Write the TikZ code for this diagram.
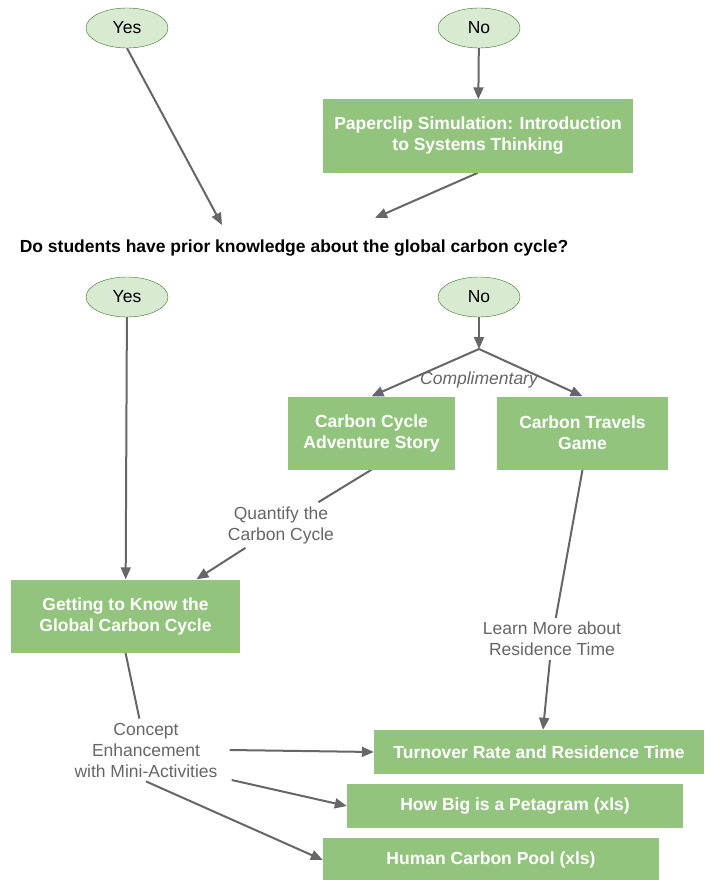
\documentclass[tikz,border=0pt]{standalone}
\usepackage{fontspec}
\setmainfont{Liberation Sans}
\usetikzlibrary{shapes.geometric,arrows.meta}
\pgfdeclarelayer{bg}
\pgfsetlayers{bg,main}
\definecolor{boxgreen}{HTML}{93C47D}
\definecolor{ovalfill}{HTML}{D9EAD3}
\definecolor{ovalline}{HTML}{38761D}
\definecolor{linegray}{HTML}{666666}
\tikzset{
  oval/.style={ellipse, draw=ovalline, fill=ovalfill, minimum width=82pt, minimum height=40pt, inner sep=0pt, font=\fontsize{17.5}{20}\selectfont},
  box/.style={fill=boxgreen, text=white, align=center, inner sep=0pt, font=\bfseries\fontsize{17.5}{21}\selectfont},
  note/.style={text=linegray, align=center, font=\fontsize{17.5}{21}\selectfont, inner sep=4pt},
  arr/.style={draw=linegray, line width=2pt, -{Triangle[length=12pt,width=10pt]}},
  ln/.style={draw=linegray, line width=2pt}
}
\begin{document}
\begin{tikzpicture}[x=1pt,y=-1pt]
        \useasboundingbox (0,0) rectangle (704,880);
        \node (yes1) [oval] at (127,28) {Yes};
        \node (no1) [oval] at (479,28) {No};
        \node (clip) [box, minimum width=310pt, minimum height=73pt] at (478,136) {Paperclip Simulation: Introduction\\to Systems Thinking};
        \node (quest) [font=\bfseries\fontsize{17.5}{20}\selectfont] at (294,248) {Do students have prior knowledge about the global carbon cycle?};
        \coordinate (qa) at (222,225);
        \coordinate (qb) at (375,218);
        \node (yes2) [oval] at (127,297) {Yes};
        \node (no2) [oval] at (479,297) {No};
        \coordinate (split) at (479,349);
        \node (compl) [note, font=\itshape\fontsize{17.5}{21}\selectfont, inner sep=0pt] at (479,380) {Complimentary};
        \node (adv) [box, minimum width=167pt, minimum height=73pt] at (371.5,433) {Carbon Cycle\\Adventure Story};
        \node (game) [box, minimum width=171pt, minimum height=73pt] at (582.5,433) {Carbon Travels\\Game};
        \node (quant) [note] at (281,525) {Quantify the\\Carbon Cycle};
        \node (get) [box, minimum width=229pt, minimum height=73pt] at (125.5,616) {Getting to Know the\\Global Carbon Cycle};
        \node (learn) [note] at (552,639) {Learn More about\\Residence Time};
        \node (concept) [note] at (146,750) {Concept\\Enhancement\\with Mini-Activities};
        \node (turn) [box, minimum width=330pt, minimum height=44pt] at (539,752) {Turnover Rate and Residence Time};
        \node (pet) [box, minimum width=336pt, minimum height=44pt] at (515,806) {How Big is a Petagram (xls)};
        \node (human) [box, minimum width=336pt, minimum height=44pt] at (491,860) {Human Carbon Pool (xls)};
        \begin{pgfonlayer}{bg}
                \draw (yes1.south) edge [arr] (qa);
                \draw (no1) edge [arr] (clip);
                \draw (clip.south) edge [arr] (qb);
                \draw (yes2) edge [arr] (get);
                \draw (no2) edge [arr] (split);
                \draw (split) edge [arr] (adv.north);
                \draw (split) edge [arr] (game.north);
                \draw (adv.south) edge [ln] (quant);
                \draw (quant) edge [arr] ([xshift=71pt]get.north);
                \draw (game.south) edge [ln] (learn);
                \draw (learn) edge [arr] ([xshift=4pt]turn.north);
                \draw (get.south) edge [ln] (concept);
                \draw ([xshift=8pt]concept.east) edge [arr] (turn.west);
                \draw ([xshift=10pt,yshift=-30pt]concept.east) edge [arr] (pet.west);
                \draw (concept.south) edge [arr] (human.west);
        \end{pgfonlayer}
\end{tikzpicture}
\end{document}
